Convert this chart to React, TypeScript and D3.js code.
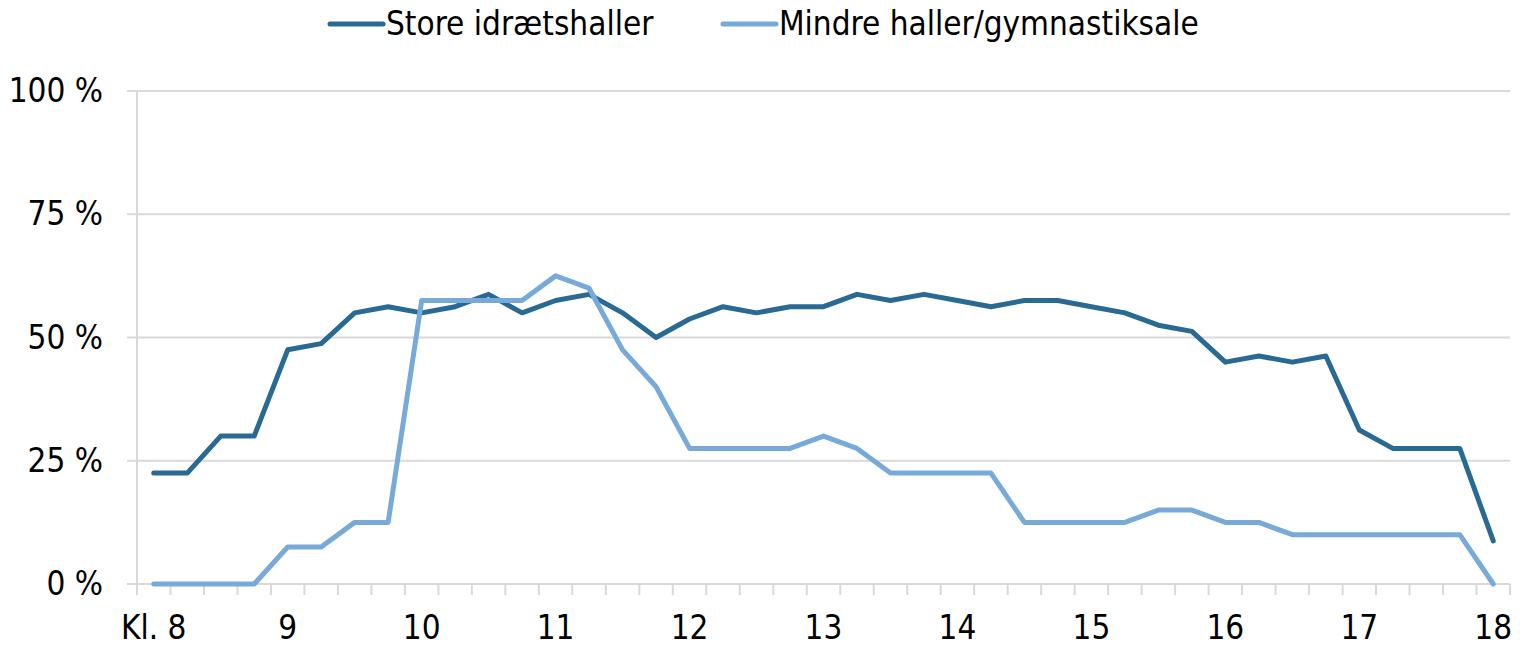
import React from "react";
import * as d3 from "d3";

const hours = ["Kl. 8", "9", "10", "11", "12", "13", "14", "15", "16", "17", "18"];
const slotCount = 41;
const seriesNames = ["Store idrætshaller", "Mindre haller/gymnastiksale"];
const storeValues = [
  22.5, 22.5, 30, 30, 47.5, 48.75, 55, 56.25, 55, 56.25, 58.75, 55, 57.5, 58.75, 55, 50,
  53.75, 56.25, 55, 56.25, 56.25, 58.75, 57.5, 58.75, 57.5, 56.25, 57.5, 57.5, 56.25, 55,
  52.5, 51.25, 45, 46.25, 45, 46.25, 31.25, 27.5, 27.5, 27.5, 8.75,
];
const mindreValues = [
  0, 0, 0, 0, 7.5, 7.5, 12.5, 12.5, 57.5, 57.5, 57.5, 57.5, 62.5, 60, 47.5, 40,
  27.5, 27.5, 27.5, 27.5, 30, 27.5, 22.5, 22.5, 22.5, 22.5, 12.5, 12.5, 12.5, 12.5,
  15, 15, 12.5, 12.5, 10, 10, 10, 10, 10, 10, 0,
];
const yTicks = [0, 25, 50, 75, 100];
const colors = ["#286a93", "#77aad8"];

const W = 1522;
const H = 647;
const left = 137;
const right = 1510;
const top = 91;
const bottom = 584;
const font = "'Liberation Sans Narrow', 'DejaVu Sans Condensed', 'Open Sans', sans-serif";
const fs = 33;

export default function App() {
  const idx = d3.range(slotCount);
  const x = d3.scaleBand<number>().domain(idx).range([left, right]).padding(0);
  const cx = (i: number) => (x(i) as number) + x.bandwidth() / 2;
  const y = d3.scaleLinear().domain([0, 100]).range([bottom, top]);
  const line = d3
    .line<number>()
    .x((_, i) => cx(i))
    .y((d) => y(d));
  const series = [storeValues, mindreValues];
  const boundaries = d3.range(slotCount + 1).map((i) => left + i * x.bandwidth());
  const legend = [
    { x1: 330, x2: 383, tx: 386 },
    { x1: 723, x2: 776, tx: 779 },
  ];
  return (
    <svg width={W} height={H} style={{ position: "absolute", left: 0, top: 0, background: "#fff" }} fontFamily={font}>
      {yTicks.map((t) => (
        <g key={t}>
          <line x1={127} x2={right} y1={y(t)} y2={y(t)} stroke="#d9d9d9" strokeWidth={2} />
          <text x={103} y={y(t) + 11} textAnchor="end" fontSize={fs} fill="#000">
            {t} %
          </text>
        </g>
      ))}
      <line x1={left} x2={left} y1={top} y2={595} stroke="#d9d9d9" strokeWidth={2} />
      {boundaries.map((b, i) => (
        <line key={i} x1={b} x2={b} y1={bottom} y2={595} stroke="#d9d9d9" strokeWidth={2} />
      ))}
      {hours.map((h, i) => (
        <text key={h} x={cx(i * 4)} y={639} textAnchor="middle" fontSize={fs} fill="#000">
          {h}
        </text>
      ))}
      {series.map((s, k) => (
        <path key={k} d={line(s) || ""} fill="none" stroke={colors[k]} strokeWidth={5} strokeLinejoin="round" strokeLinecap="round" />
      ))}
      {seriesNames.map((n, k) => (
        <g key={n}>
          <line x1={legend[k].x1} x2={legend[k].x2} y1={24} y2={24} stroke={colors[k]} strokeWidth={5} strokeLinecap="round" />
          <text x={legend[k].tx} y={35} fontSize={fs} fill="#000">
            {n}
          </text>
        </g>
      ))}
    </svg>
  );
}
